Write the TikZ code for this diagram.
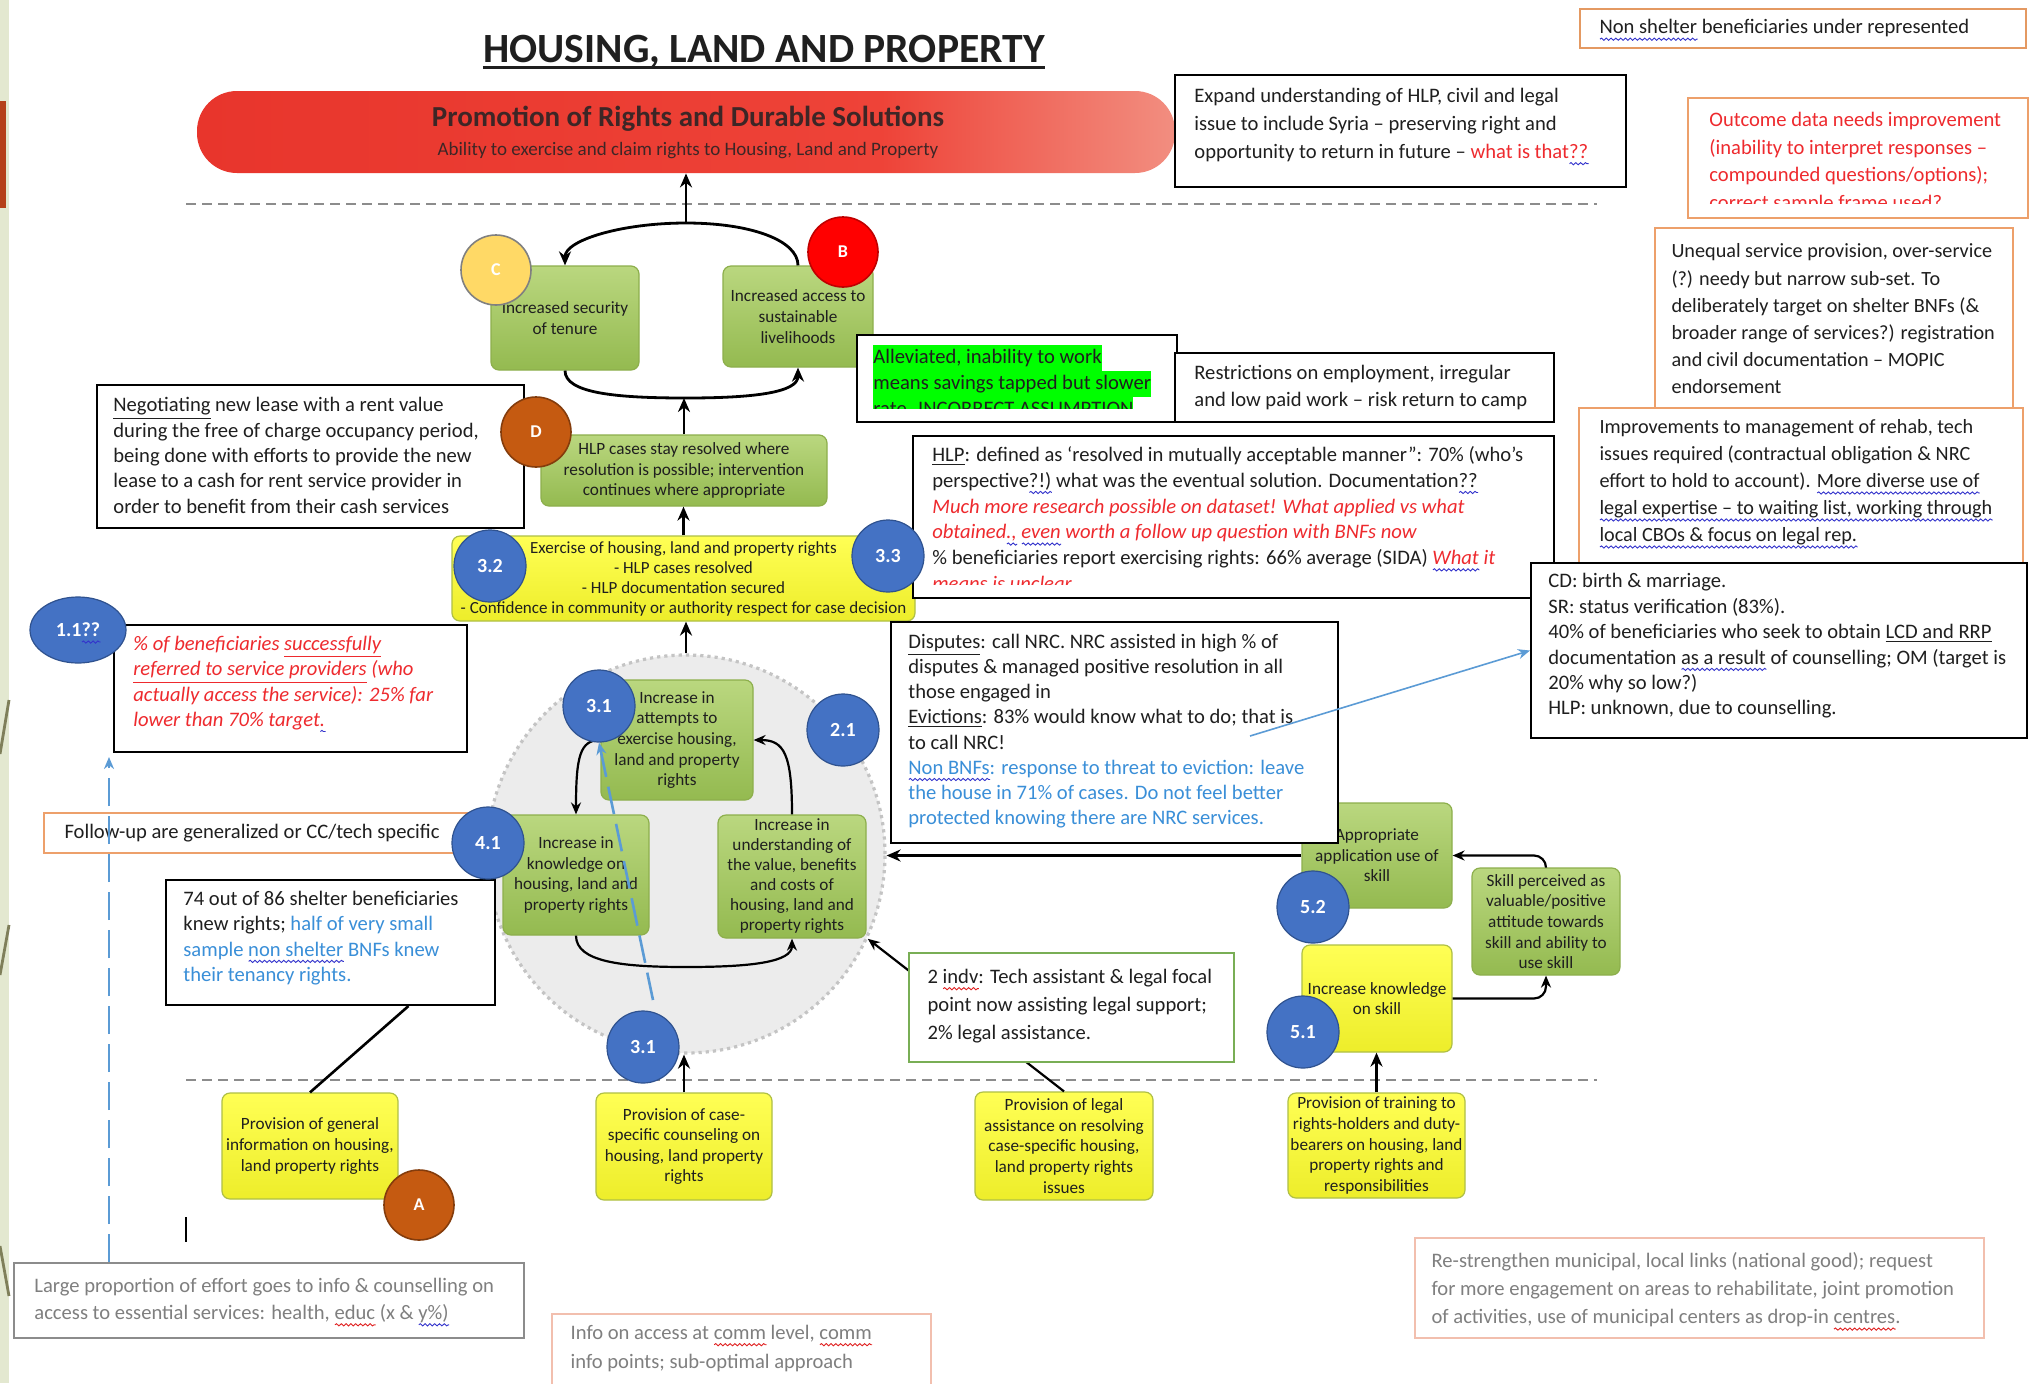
\documentclass[tikz,border=0pt]{standalone}
\usepackage{fontspec}
\setmainfont{Carlito}
\usetikzlibrary{arrows.meta,shapes.geometric,calc,decorations.pathmorphing}
\definecolor{tblack}{HTML}{1F1F1F}
\definecolor{tred}{HTML}{EE2A2E}
\definecolor{tblue}{HTML}{3A8FD8}
\definecolor{tgray}{HTML}{7F7F7F}
\definecolor{orbord}{HTML}{EDA06B}
\definecolor{pinkbord}{HTML}{F2BFAE}
\definecolor{graybord}{HTML}{8C8C8C}
\definecolor{indbord}{HTML}{79AE55}
\definecolor{gtop}{HTML}{BAD77F}
\definecolor{gbot}{HTML}{94BA50}
\definecolor{gdraw}{HTML}{8DAF4C}
\definecolor{ytop}{HTML}{FFFF55}
\definecolor{ybot}{HTML}{EDED2A}
\definecolor{ydraw}{HTML}{AFBF45}
\definecolor{cblue}{HTML}{4472C4}
\definecolor{cbluedk}{HTML}{2F528F}
\definecolor{cbrown}{HTML}{C55A11}
\definecolor{cbrowndk}{HTML}{843C0C}
\definecolor{cyel}{HTML}{FFD966}
\definecolor{cred}{HTML}{FF0000}
\definecolor{credk}{HTML}{C00000}
\definecolor{ringfill}{HTML}{ECECEC}
\definecolor{ringdraw}{HTML}{C4C4C4}
\definecolor{dashgray}{HTML}{8C8C8C}
\definecolor{lblue}{HTML}{5B9BD5}
\definecolor{hlgreen}{HTML}{00FF00}
\definecolor{banL}{HTML}{E8352C}
\definecolor{banM}{HTML}{EE4338}
\definecolor{banR}{HTML}{F28E80}
\definecolor{bantext}{HTML}{3D2626}
\definecolor{leftpale}{HTML}{E3E8D0}
\definecolor{leftbar}{HTML}{B5401A}
\definecolor{leftolive}{HTML}{7F7F5A}
\definecolor{wblue}{HTML}{3333CC}
\definecolor{wred}{HTML}{E02020}
\pgfdeclarehorizontalshading{banshade}{100bp}{color(0bp)=(banL); color(25bp)=(banL); color(60bp)=(banM); color(75bp)=(banR); color(100bp)=(banR)}
\newcommand{\hlbox}[1]{{\setlength{\fboxsep}{0pt}\colorbox{hlgreen}{\strut #1}}}
\newsavebox{\wavebox}
\newlength{\wavelen}
\newcommand{\wavy}[2]{\leavevmode\sbox{\wavebox}{#2}\setlength{\wavelen}{\wd\wavebox}\rlap{\raisebox{0pt}[0pt][0pt]{\tikz[baseline=0pt]\draw[draw=#1, fill=none, solid, line width=0.45pt, decorate, decoration={snake, amplitude=0.55pt, segment length=2.4pt}] (0pt,-2.6pt) -- (\wavelen,-2.6pt);}}\usebox{\wavebox}}
\newcommand{\bwave}[1]{\wavy{wblue}{#1}}
\newcommand{\rwave}[1]{\wavy{wred}{#1}}
\tikzset{
  nb/.style={draw=black, line width=1pt, fill=white, inner sep=0pt},
  ob/.style={draw=orbord, line width=0.9pt, fill=white, inner sep=0pt},
  tx/.style={inner sep=0pt, align=left, text=tblack, anchor=west, font=\fontsize{10.3}{13.6}\selectfont},
  gb/.style={rounded corners=4pt, draw=gdraw, line width=0.6pt, top color=gtop, bottom color=gbot, inner sep=0pt, align=center, text=tblack, font=\fontsize{8.6}{10.3}\selectfont},
  yb/.style={gb, top color=ytop, bottom color=ybot, draw=ydraw},
  bc/.style={circle, fill=cblue, draw=cbluedk, line width=0.6pt, minimum size=36pt, inner sep=0pt, text=white, font=\bfseries\fontsize{10}{12}\selectfont},
  lc/.style={circle, minimum size=35pt, inner sep=0pt, line width=0.8pt, text=white, font=\bfseries\fontsize{9}{11}\selectfont},
  arr/.style={-{Stealth[length=7pt,width=6pt]}, line width=1.4pt, draw=black},
  arrthin/.style={-{Stealth[length=6pt,width=5pt]}, line width=1.1pt, draw=black},
  hdash/.style={draw=dashgray, line width=1pt, dash pattern=on 5pt off 3pt},
  bluedash/.style={draw=lblue, line width=1.3pt, dash pattern=on 14pt off 5pt, -{Stealth[length=6pt,width=5pt]}},
}
\begin{document}
\begin{tikzpicture}[x=0.5pt,y=-0.5pt]
\useasboundingbox (0,0) rectangle (2036,1383);
\fill[white] (0,0) rectangle (2036,1383);
% left decorations
\fill[leftpale] (0,0) rectangle (9,1383);
\fill[leftbar] (0,101) rectangle (6,208);
\draw[leftolive, line width=1.4pt] (0,754) -- (9,700);
\draw[leftolive, line width=1.4pt] (0,975) -- (9,925);
\draw[leftolive, line width=1.4pt] (0,1246) -- (9,1296);

% title
\node[anchor=base, inner sep=0pt, text=tblack, font=\bfseries\fontsize{20.8}{24}\selectfont] (title) at (764,62) {HOUSING, LAND AND PROPERTY};
\draw[line width=1.3pt, tblack] ([yshift=-2.6pt]title.base west) -- ([yshift=-2.6pt]title.base east);

% banner
\node[rounded corners=20pt, shading=banshade, minimum width=489pt, minimum height=41pt, inner sep=0pt] (banner) at (686,132) {};
\node[inner sep=0pt, text=bantext, font=\bfseries\fontsize{14.5}{17}\selectfont] (banT1) at (688,119) {Promotion of Rights and Durable Solutions};
\node[inner sep=0pt, text=bantext, font=\fontsize{9.5}{11}\selectfont] (banT2) at (688,151) {Ability to exercise and claim rights to Housing, Land and Property};

% dashed separators
\draw[hdash] (186,204) -- (1597,204);
\draw[hdash] (186,1080) -- (1597,1080);

% ring
\node[circle, fill=ringfill, draw=ringdraw, dotted, line width=1.6pt, minimum size=199pt, inner sep=0pt] (ring) at (686,854) {};

% green / yellow boxes
\node[gb, minimum width=74pt, minimum height=52pt] (sec) at (565,318) {Increased security\\of tenure};
\node[gb, minimum width=75pt, minimum height=50.5pt] (liv) at (798,316.5) {Increased access to\\sustainable\\livelihoods};
\node[gb, minimum width=143pt, minimum height=35.5pt] (hlp) at (684,470.5) {HLP cases stay resolved where\\resolution is possible; intervention\\continues where appropriate};
\node[yb, minimum width=231.5pt, minimum height=42.5pt, font=\fontsize{8.5}{10}\selectfont] (ex) at (683.5,578.5) {Exercise of housing, land and property rights\\- HLP cases resolved\\- HLP documentation secured\\- Confidence in community or authority respect for case decision};
\node[gb, minimum width=76pt, minimum height=60pt] (att) at (677,740) {Increase in\\attempts to\\exercise  housing,\\land and property\\rights};
\node[gb, minimum width=73pt, minimum height=60pt] (know) at (576,875) {Increase in\\knowledge on\\housing, land and\\property rights};
\node[gb, minimum width=74pt, minimum height=61.5pt, font=\fontsize{8.6}{10}\selectfont] (und) at (792,876.5) {Increase in\\understanding of\\the value, benefits\\and costs of\\housing, land and\\property rights};
\node[gb, minimum width=75pt, minimum height=52.5pt] (app) at (1377,855.5) {Appropriate\\application use of\\skill};
\node[gb, minimum width=74pt, minimum height=53.5pt] (skl) at (1546,921.5) {Skill perceived as\\valuable/positive\\attitude towards\\skill and ability to\\use skill};
\node[yb, minimum width=75pt, minimum height=53.5pt] (ikn) at (1377,998.5) {Increase knowledge\\on skill};
\node[yb, minimum width=88.5pt, minimum height=52.5pt] (trn) at (1376.5,1145.5) {Provision of training to\\rights-holders and duty-\\bearers on housing, land\\property rights and\\responsibilities};
\node[yb, minimum width=89pt, minimum height=54pt] (legal) at (1064,1146) {Provision of legal\\assistance on resolving\\case-specific housing,\\land property rights\\issues};
\node[yb, minimum width=88pt, minimum height=53.5pt] (cas) at (684,1146.5) {Provision of case-\\specific counseling on\\housing, land property\\rights};
\node[yb, minimum width=88pt, minimum height=53pt] (gen) at (310,1146) {Provision of general\\information on housing,\\land property rights};

% legal arrow (passes under the 2 indv box)
\draw[arrthin] (legal.north) -- (ring.-25);

% note boxes
\node[ob, draw=orbord!80!brown, minimum width=223pt, minimum height=19.5pt] (nonshel) at (1803,28.5) {};
\node[tx, font=\fontsize{10.3}{12}\selectfont] (nonshelT) at ([xshift=10pt]nonshel.west) {\bwave{Non shelter} beneficiaries under represented};

\node[nb, minimum width=225.5pt, minimum height=56pt] (expand) at (1400.5,131) {};
\node[tx, font=\fontsize{10.3}{14}\selectfont] (expandT) at ([xshift=10pt,yshift=3pt]expand.west) {Expand understanding of HLP, civil and legal\\issue to include Syria – preserving right and\\opportunity to return in future – {\color{tred}what is that\bwave{??}}};

\node[ob, minimum width=170pt, minimum height=60pt] (outcome) at (1858,158) {};
\begin{scope}
\clip (1692,102) rectangle (2024,203);
\node[tx, anchor=north west, text=tred, font=\fontsize{10.3}{13.8}\selectfont] (outcomeT) at (1709,112) {Outcome data needs improvement\\(inability to interpret responses –\\compounded questions/options);\\correct sample frame used?};
\end{scope}

\node[ob, minimum width=179pt, minimum height=91pt] (unequal) at (1834,319) {};
\node[tx, font=\fontsize{10.1}{13.6}\selectfont] (unequalT) at ([xshift=8.5pt]unequal.west) {Unequal service provision, over-service\\(?) needy but narrow sub-set. To\\deliberately target on shelter BNFs (\&\\broader range of services?) registration\\and civil documentation – MOPIC\\endorsement};

\node[ob, minimum width=222pt, minimum height=77.5pt] (improv) at (1801,485.5) {};
\node[tx, font=\fontsize{10.1}{13.5}\selectfont] (improvT) at ([xshift=10.5pt,yshift=1.5pt]improv.west) {Improvements to management of rehab, tech\\issues required (contractual obligation \& NRC\\effort to hold to account).  \bwave{More diverse use of}\\\bwave{legal expertise – to waiting list, working through}\\\bwave{local CBOs \& focus on legal rep.}};

\node[nb, minimum width=160pt, minimum height=43.5pt] (allev) at (1017,378.5) {};
\begin{scope}
\clip (860,338) rectangle (1174,408);
\node[tx, anchor=north west, font=\fontsize{10.3}{13}\selectfont] (allevT) at (873,345) {\hlbox{Alleviated, inability to work}\\\hlbox{means savings tapped but slower}\\\hlbox{rate. INCORRECT ASSUMPTION}};
\end{scope}

\node[nb, minimum width=189.5pt, minimum height=34.5pt] (restrict) at (1364.5,387.5) {};
\node[tx] (restrictT) at ([xshift=10pt]restrict.west) {Restrictions on employment, irregular\\and low paid work – risk return to camp};

\node[nb, minimum width=320.5pt, minimum height=81pt] (hlpdef) at (1233.5,517) {};
\begin{scope}
\clip (916,439) rectangle (1551,584);
\node[tx, anchor=north west, font=\fontsize{10.3}{12.9}\selectfont] (hlpdefT) at (932,446) {\underline{HLP}: defined as ‘resolved in mutually acceptable manner”: 70\% (who’s\\perspective\bwave{?!)} what was the eventual solution.  Documentation\bwave{??}\\{\color{tred}\itshape Much more research possible on dataset! What applied vs what}\\{\color{tred}\itshape obtained\bwave{.,} \bwave{even} worth a follow up question with BNFs now}\\\% beneficiaries report exercising rights: 66\% average (SIDA) {\color{tred}\itshape \bwave{What} it}\\{\color{tred}\itshape means is unclear}};
\end{scope}

\node[nb, minimum width=248pt, minimum height=87.5pt] (cd) at (1779,650.5) {};
\node[tx, font=\fontsize{10.3}{12.7}\selectfont] (cdT) at ([xshift=9pt,yshift=2.2pt]cd.west) {CD: birth \& marriage.\\SR: status verification (83\%).\\40\% of beneficiaries who seek to obtain \underline{LCD and RRP}\\documentation \bwave{as a result} of counselling; OM (target is\\20\% why so low?)\\HLP: unknown, due to counselling.};

\node[nb, minimum width=213.5pt, minimum height=71.5pt] (neg) at (310.5,456.5) {};
\node[tx, font=\fontsize{10.3}{12.7}\selectfont] (negT) at ([xshift=8.5pt,yshift=0.5pt]neg.west) {\underline{Negotiating} new lease with a rent value\\during the free of charge occupancy period,\\being done with efforts to provide the new\\lease to a cash for rent service provider in\\order to benefit from their cash services};

\node[nb, minimum width=176.5pt, minimum height=63.5pt] (pct) at (290.5,688.5) {};
\node[tx, text=tred, font=\itshape\fontsize{10.3}{12.6}\selectfont] (pctT) at ([xshift=10pt,yshift=2.7pt]pct.west) {\% of beneficiaries \underline{successfully}\\\underline{referred to service providers} (who\\actually access the service): 25\% far\\lower than 70\% target\bwave{.}};

\node[ob, minimum width=213pt, minimum height=20pt] (follow) at (257,833) {};
\node[tx] (followT) at ([xshift=10.5pt]follow.west) {Follow-up are generalized or CC/tech specific};

\node[nb, minimum width=164.5pt, minimum height=62.5pt] (b74) at (330.5,942.5) {};
\node[tx, font=\fontsize{10.3}{12.7}\selectfont] (b74T) at ([xshift=9pt,yshift=2.2pt]b74.west) {74 out of 86 shelter beneficiaries\\knew rights; {\color{tblue}half of very small}\\{\color{tblue}sample \bwave{non shelter} BNFs knew}\\{\color{tblue}their tenancy rights.}};

\node[nb, draw=graybord, minimum width=255pt, minimum height=37.5pt] (lp) at (269,1300.5) {};
\node[tx, text=tgray, font=\fontsize{10.3}{13.6}\selectfont] (lpT) at ([xshift=10.5pt]lp.west) {Large proportion of effort goes to info \& counselling on\\access to essential services: health, \rwave{educ} (x \& \bwave{y\%)}};

\node[nb, draw=pinkbord, line width=0.8pt, minimum width=189.5pt, minimum height=40.5pt] (info) at (741.5,1354.5) {};
\node[tx, text=tgray, font=\fontsize{10.3}{14.5}\selectfont] (infoT) at ([xshift=9.5pt,yshift=3pt]info.west) {Info on access at \rwave{comm} level, \rwave{comm}\\info points; sub-optimal approach};

\node[nb, draw=pinkbord, line width=0.8pt, minimum width=284.5pt, minimum height=50pt] (restr) at (1699.5,1288) {};
\node[tx, text=tgray, font=\fontsize{10.3}{14}\selectfont] (restrT) at ([xshift=8.5pt,yshift=-1pt]restr.west) {Re-strengthen municipal, local links (national good); request\\for more engagement on areas to rehabilitate, joint promotion\\of activities, use of municipal centers as drop-in \rwave{centres}.};

\node[nb, minimum width=223.5pt, minimum height=110.5pt] (disp) at (1114.5,732.5) {};
\node[tx, font=\fontsize{10.3}{12.6}\selectfont] (dispT) at ([xshift=9pt,yshift=0.7pt]disp.west) {\underline{Disputes}: call NRC. NRC assisted in high \% of\\disputes \& managed positive resolution in all\\those engaged in\\\underline{Evictions}: 83\% would know what to do; that is\\to call NRC!\\{\color{tblue}\bwave{Non BNFs}: response to threat to eviction: leave}\\{\color{tblue}the house in 71\% of cases. Do not feel better}\\{\color{tblue}protected knowing there are NRC services.}};

\node[nb, draw=indbord, line width=0.8pt, minimum width=162.5pt, minimum height=54.5pt] (ind) at (1071.5,1007.5) {};
\node[tx, font=\fontsize{10.3}{14}\selectfont] (indT) at ([xshift=9.5pt,yshift=0.7pt]ind.west) {2 \rwave{indv}: Tech assistant \& legal focal\\point now assisting legal support;\\2\% legal assistance.};

% black connectors
\coordinate (topLoop) at (686,223);
\coordinate (botLoop) at (686,398);
\coordinate (innerBot) at (686,967);
\draw[arr] (liv.north) .. controls (798,240) and (750,223) .. (topLoop) .. controls (622,223) and (565,240) .. (sec.north);
\draw[arr] (topLoop) -- (topLoop |- banner.south);
\draw[arr] (sec.south) .. controls (565,393) and (615,398) .. (botLoop) .. controls (757,398) and (798,392) .. (liv.south);
\draw[arr] (hlp.north) -- (hlp.north |- botLoop);
\draw[arr] (ex.north) -- (ex.north |- hlp.south);
\draw[arr] (ring.north) -- (ring.north |- ex.south);
\draw[arrthin] (att.west) .. controls (580,740) and (576,756) .. (know.north);
\draw[arrthin] (und.north) .. controls (792,754) and (784,740) .. (att.east);
\draw[arrthin] (know.south) .. controls (576,962) and (622,967) .. (innerBot) .. controls (752,967) and (792,962) .. (und.south);
\draw[arr] (app.west) -- (app.west -| ring.east);
\draw[arrthin, rounded corners=6pt] (skl.north) |- (app.east);
\draw[arrthin, rounded corners=6pt] (ikn.east) -| (skl.south);
\draw[arr] (trn.north) -- (trn.north |- ikn.south);
\draw[arr] (cas.north) -- (cas.north |- ring.south);
\draw[line width=1.3pt] (gen.north) -- ($(b74.south)+(78,0)$);
\coordinate (cur1) at (186,1217);
\coordinate (cur2) at (186,1242);
\draw[line width=0.8pt] (cur1) -- (cur2);

% letter circles
\node[lc, fill=cyel, draw=gray] (cC) at (496,270) {C};
\node[lc, fill=cred, draw=credk] (cB) at (843,252) {B};
\node[lc, fill=cbrown, draw=cbrowndk] (cD) at (536,432) {D};
\node[lc, fill=cbrown, draw=cbrowndk] (cA) at (419,1205) {A};

% blue number circles
\node[bc] (c32) at (490,566) {3.2};
\node[bc] (c33) at (888,556) {3.3};
\node[bc] (c31a) at (599,706) {3.1};
\node[bc] (c21) at (843,730) {2.1};
\node[bc] (c41) at (488,843) {4.1};
\node[bc] (c31b) at (643,1047) {3.1};
\node[bc] (c52) at (1313,907) {5.2};
\node[bc] (c51) at (1303,1032) {5.1};
\node[ellipse, fill=cblue, draw=cbluedk, line width=0.6pt, minimum width=48pt, minimum height=33pt, inner sep=0pt, text=white, font=\bfseries\fontsize{10}{12}\selectfont] (c11) at (78,630) {1.1\bwave{??}};

% blue connectors
\coordinate (bd1) at (653,1000);
\draw[bluedash] (bd1) -- (c31a.south);
\coordinate (vd) at (109,757);
\draw[bluedash] (lp.north -| vd) -- (vd);
\coordinate (bl1) at (1250,736);
\draw[draw=lblue, line width=0.8pt, -{Stealth[length=6pt,width=5pt]}] (bl1) -- (cd.west);
\end{tikzpicture}
\end{document}
